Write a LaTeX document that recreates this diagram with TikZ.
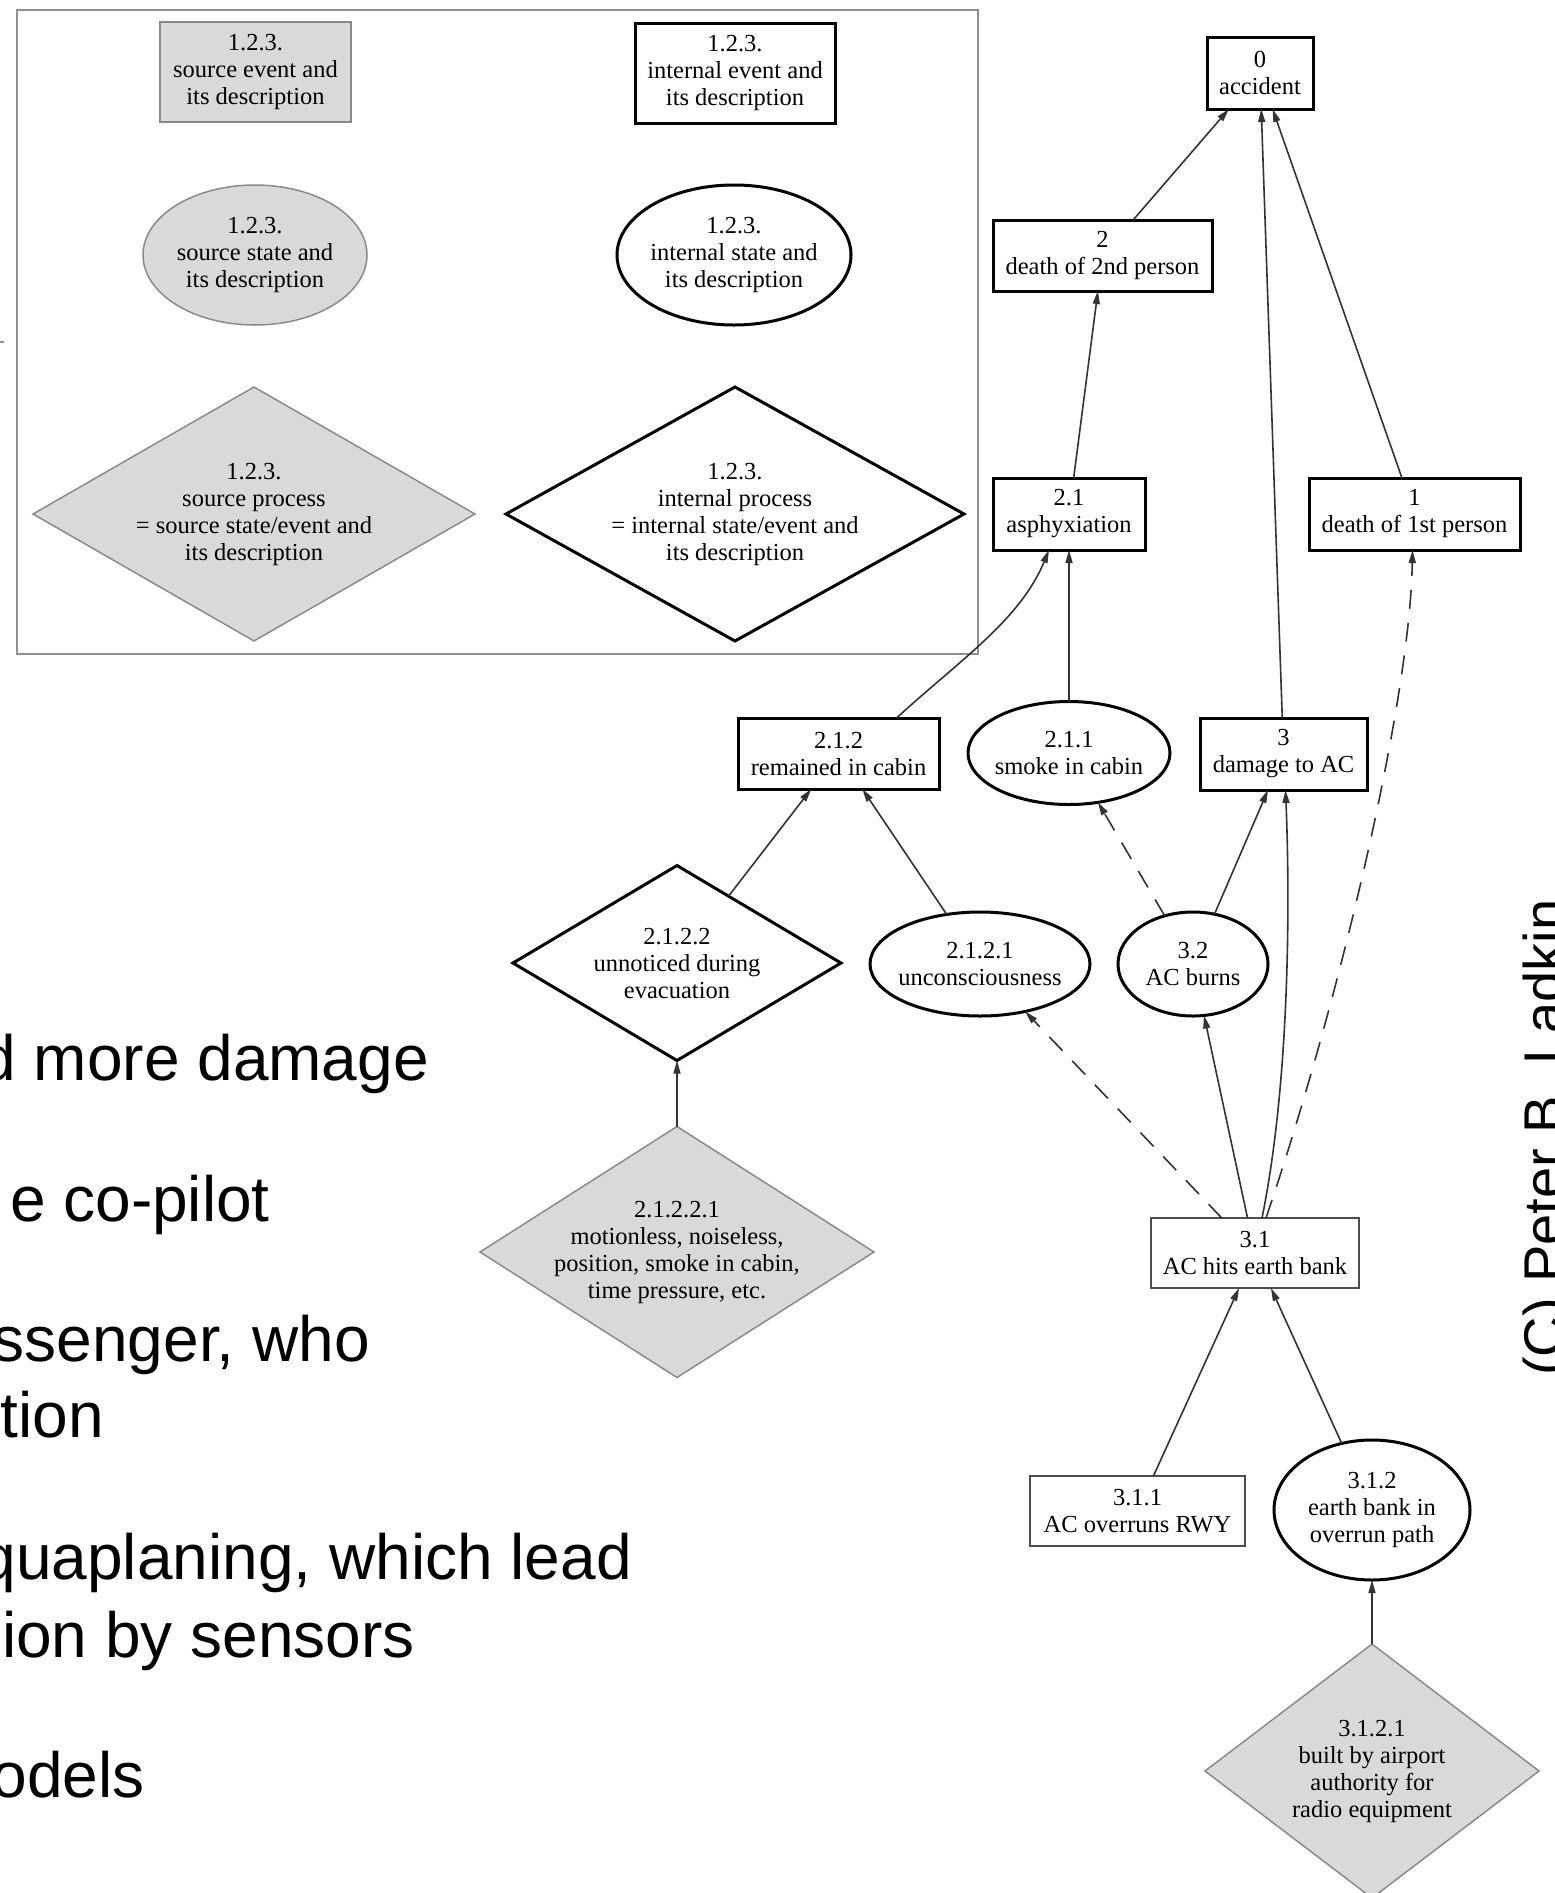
\documentclass[tikz,border=0pt]{standalone}
\usepackage{fontspec}
\setmainfont{Liberation Serif}
\newfontfamily\slidefamily{Liberation Sans}
\usetikzlibrary{shapes.geometric,arrows.meta}

\definecolor{srcfill}{HTML}{D9D9D9}
\definecolor{srcline}{HTML}{8A8A8A}
\definecolor{edgecol}{HTML}{333333}
\definecolor{framecol}{HTML}{8F8F8F}
\definecolor{plainline}{HTML}{4D4D4D}

\newcommand\nodefont{\fontsize{24.5}{27}\selectfont}
\newcommand\slidetext{\slidefamily\fontsize{64}{76}\selectfont}

\tikzset{
  x=1pt, y=-1pt,
  basenode/.style={font=\nodefont, align=center, inner sep=-10pt, outer sep=0pt, text=black},
  intbox/.style={basenode, rectangle, draw=black, line width=3pt, fill=white},
  srcbox/.style={basenode, rectangle, draw=srcline, line width=1.5pt, fill=srcfill},
  plainbox/.style={basenode, rectangle, draw=plainline, line width=1.8pt, fill=white},
  intell/.style={basenode, ellipse, draw=black, line width=3pt, fill=white},
  srcell/.style={basenode, ellipse, draw=srcline, line width=1.5pt, fill=srcfill},
  intdia/.style={basenode, diamond, inner sep=-30pt, draw=black, line width=3pt, fill=white},
  srcdia/.style={basenode, diamond, inner sep=-30pt, draw=srcline, line width=1.5pt, fill=srcfill},
  link/.style={draw=edgecol, line width=1.6pt, -{Triangle[length=13pt,width=7pt]}},
  dlink/.style={link, dash pattern=on 19pt off 14pt},
  slide/.style={font=\slidetext, anchor=base east, inner sep=0pt, text=black},
}

\begin{document}
\begin{tikzpicture}
\useasboundingbox (0,0) rectangle (1555,1893);
\clip (0,0) rectangle (1555,1893);

% legend frame and stray mark
\draw[framecol, line width=2.5pt] (17,10) rectangle (978,654);
\draw[framecol, line width=2pt] (0,342) -- (4,342);

% legend: node kinds
\node[srcbox, minimum width=191pt, minimum height=100pt] (lgSE) at (255.5,72) {1.2.3.\\source event and\\its description};
\node[intbox, minimum width=200pt, minimum height=100pt] (lgIE) at (735,73) {1.2.3.\\internal event and\\its description};
\node[srcell, minimum width=224pt, minimum height=140pt] (lgSS) at (255,255) {1.2.3.\\source state and\\its description};
\node[intell, minimum width=234pt, minimum height=140pt] (lgIS) at (734,255) {1.2.3.\\internal state and\\its description};
\node[srcdia, minimum width=442pt, minimum height=254pt] (lgSP) at (254,514) {1.2.3.\\source process\\= source state/event and\\its description};
\node[intdia, minimum width=458pt, minimum height=254pt] (lgIP) at (735,514) {1.2.3.\\internal process\\= internal state/event and\\its description};

% why-because graph
\node[intbox, minimum width=106pt, minimum height=72pt] (acc) at (1260,73) {0\\accident};
\node[intbox, minimum width=219pt, minimum height=71pt] (d2) at (1102.5,255.5) {2\\death of 2nd person};
\node[intbox, minimum width=152pt, minimum height=72pt] (asph) at (1069,514) {2.1\\asphyxiation};
\node[intbox, minimum width=211pt, minimum height=72pt] (d1) at (1414.5,514) {1\\death of 1st person};
\node[intbox, minimum width=201pt, minimum height=71pt] (rem) at (838.5,753.5) {2.1.2\\remained in cabin};
\node[intell, minimum width=202pt, minimum height=103pt] (smoke) at (1069,753) {2.1.1\\smoke in cabin};
\node[intbox, minimum width=167pt, minimum height=72pt] (dmg) at (1283.5,754) {3\\damage to AC};
\node[intdia, minimum width=328pt, minimum height=195pt] (unn) at (677,963) {2.1.2.2\\unnoticed during\\evacuation};
\node[intell, minimum width=220pt, minimum height=104pt] (unc) at (980,964) {2.1.2.1\\unconsciousness};
\node[intell, minimum width=150pt, minimum height=104pt] (burn) at (1193,964) {3.2\\AC burns};
\node[srcdia, minimum width=394pt, minimum height=251pt] (mot) at (677,1252) {2.1.2.2.1\\motionless, noiseless,\\position, smoke in cabin,\\time pressure, etc.};
\node[plainbox, minimum width=208pt, minimum height=70pt] (hit) at (1255,1253) {3.1\\AC hits earth bank};
\node[plainbox, minimum width=215pt, minimum height=70pt] (ovr) at (1137.5,1511) {3.1.1\\AC overruns RWY};
\node[intell, minimum width=196pt, minimum height=140pt] (bank) at (1372,1510) {3.1.2\\earth bank in\\overrun path};
\node[srcdia, minimum width=334pt, minimum height=254pt] (built) at (1372,1771) {3.1.2.1\\built by airport\\authority for\\radio equipment};

% causal links
\draw[link] (d2) -- (acc);
\draw[link] (dmg) -- (acc);
\draw[link] (d1) -- (acc);
\draw[link] (asph) -- (d2);
\draw[link] (smoke) -- (asph);
\draw[link] ([xshift=58pt]rem.north) .. controls (960,660) and (1020,620) .. ([xshift=-20pt]asph.south);
\draw[link] (unn) -- (rem);
\draw[link] (unc) -- (rem);
\draw[link] (mot) -- (unn);
\draw[link] (burn) -- (dmg);
\draw[dlink] (burn) -- (smoke);
\draw[dlink] (hit) -- (unc);
\draw[link] (hit) -- (burn);
\draw[link] ([xshift=7pt]hit.north) .. controls (1290,1080) and (1290,900) .. ([xshift=2pt]dmg.south);
\draw[dlink] ([xshift=11pt]hit.north) .. controls (1340,1000) and (1410,700) .. ([xshift=-2pt]d1.south);
\draw[link] (ovr) -- (hit);
\draw[link] (bank) -- (hit);
\draw[link] (built) -- (bank);

% slide text
\node[slide] (s1) at (429,1080) {d more damage};
\node[slide] (s2) at (270,1221) {e co-pilot};
\node[slide] (s3) at (370,1361) {ssenger, who};
\node[slide] (s4) at (104,1437) {tion};
\node[slide] (s5) at (632,1579) {quaplaning, which lead};
\node[slide] (s6) at (415,1657) {ion by sensors};
\node[slide] (s7) at (145,1797) {odels};

% copyright line
\node[font=\slidefamily\fontsize{56}{60}\selectfont, rotate=90, anchor=base west, inner sep=0pt] (copy) at (1563,1376) {(C) Peter B. Ladkin};
\end{tikzpicture}
\end{document}
